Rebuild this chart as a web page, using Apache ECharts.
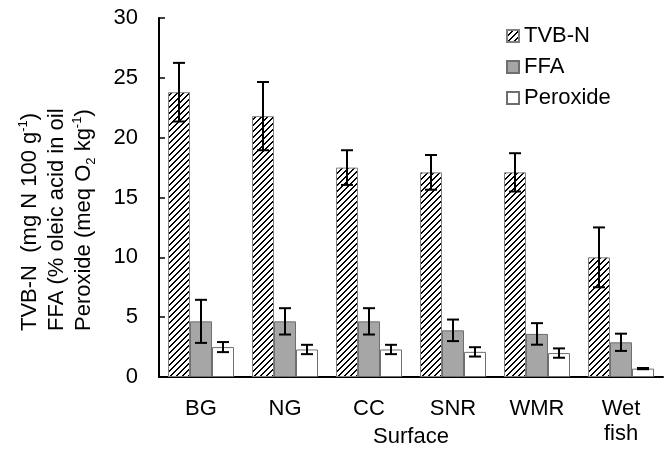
<!DOCTYPE html>
<html>
<head>
<meta charset="utf-8">
<script src="https://cdn.jsdelivr.net/npm/echarts@6/dist/echarts.min.js"></script>
<style>
  html, body { margin: 0; padding: 0; background: #fff; }
  #chart { width: 668px; height: 454px; }
</style>
</head>
<body>
<div id="chart"></div>
<script>
// values
const categories = ['BG', 'NG', 'CC', 'SNR', 'WMR', 'Wet\nfish'];
const tvbn = [23.8, 21.8, 17.5, 17.1, 17.1, 10.0];
const tvbnErr = [2.45, 2.85, 1.45, 1.45, 1.6, 2.5];
const ffa = [4.65, 4.65, 4.65, 3.9, 3.6, 2.9];
const ffaErr = [1.8, 1.1, 1.1, 0.9, 0.9, 0.72];
const peroxide = [2.5, 2.3, 2.3, 2.1, 2.0, 0.7];
const peroxideErr = [0.42, 0.39, 0.39, 0.39, 0.39, 0.05];
const yTicks = [0, 5, 10, 15, 20, 25, 30];

const FONT = 'Liberation Sans, Arial, sans-serif';
const BAR_W = 22;

// diagonal hatch for TVB-N, pixel exact so it stays crisp
function hatch() {
  const n = 6;
  const c = document.createElement('canvas');
  c.width = n; c.height = n;
  const ctx = c.getContext('2d');
  ctx.fillStyle = '#fff';
  ctx.fillRect(0, 0, n, n);
  ctx.fillStyle = '#000';
  for (let y = 0; y < n; y++) {
    const x = n - 1 - y;
    ctx.fillRect(x, y, 1, 1);
    ctx.fillRect((x + 1) % n, y, 1, 1);
  }
  return c;
}

function errorBars(vals, errs, offset) {
  return {
    type: 'custom',
    z: 10,
    silent: true,
    data: vals.map((v, i) => [i, v - errs[i], v + errs[i]]),
    renderItem: function (params, api) {
      const lo = api.coord([api.value(0), api.value(1)]);
      const hi = api.coord([api.value(0), api.value(2)]);
      const x = lo[0] + offset;
      const cap = 6;
      const st = {stroke: '#000', lineWidth: 2};
      return {
        type: 'group',
        children: [
          {type: 'line', shape: {x1: x, y1: lo[1], x2: x, y2: hi[1]}, style: st},
          {type: 'line', shape: {x1: x - cap, y1: lo[1], x2: x + cap, y2: lo[1]}, style: st},
          {type: 'line', shape: {x1: x - cap, y1: hi[1], x2: x + cap, y2: hi[1]}, style: st}
        ]
      };
    }
  };
}

const chart = echarts.init(document.getElementById('chart'));

chart.setOption({
  animation: false,
  textStyle: {fontFamily: FONT, color: '#000'},
  grid: {left: 159, right: 5, top: 18, bottom: 77, containLabel: false, outerBoundsMode: 'none'},
  legend: {
    data: ['TVB-N', 'FFA', 'Peroxide'],
    orient: 'vertical',
    left: 506,
    top: 25,
    padding: 0,
    icon: 'rect',
    itemWidth: 12,
    itemHeight: 12,
    itemGap: 9,
    selectedMode: false,
    textStyle: {fontSize: 22, fontFamily: FONT, color: '#000'}
  },
  xAxis: {
    type: 'category',
    data: categories,
    name: 'Surface',
    nameLocation: 'middle',
    nameGap: 49,
    nameMoveOverlap: false,
    nameTextStyle: {fontSize: 22, fontFamily: FONT, color: '#000'},
    axisLine: {lineStyle: {color: '#000', width: 2}},
    axisTick: {show: false},
    axisLabel: {fontSize: 22, fontFamily: FONT, color: '#000', margin: 19, lineHeight: 25, interval: 0}
  },
  yAxis: {
    type: 'value',
    min: yTicks[0],
    max: yTicks[yTicks.length - 1],
    interval: 5,
    axisLine: {show: true, lineStyle: {color: '#000', width: 2}},
    axisTick: {show: true, inside: true, length: 6, lineStyle: {color: '#000', width: 1.5}},
    splitLine: {show: false},
    axisLabel: {fontSize: 22, fontFamily: FONT, color: '#000', margin: 21}
  },
  graphic: [{
    type: 'text',
    x: 57,
    y: 331,
    rotation: Math.PI / 2,
    style: {
      text: 'TVB-N  (mg N 100 g{sup|-1})\nFFA (% oleic acid in oil\nPeroxide (meq O{sub|2} kg{sup|-1})',
      fontSize: 22,
      fontFamily: FONT,
      fill: '#000',
      align: 'left',
      verticalAlign: 'middle',
      lineHeight: 27,
      rich: {
        sup: {fontSize: 13, fontFamily: FONT, fill: '#000', verticalAlign: 'top', lineHeight: 27},
        sub: {fontSize: 13, fontFamily: FONT, fill: '#000', verticalAlign: 'bottom', lineHeight: 27}
      }
    }
  }],
  series: [
    {
      name: 'TVB-N',
      type: 'bar',
      data: tvbn,
      barWidth: BAR_W,
      barGap: '0%',
      itemStyle: {color: {image: hatch(), repeat: 'repeat'}, borderColor: '#808080', borderWidth: 1}
    },
    {
      name: 'FFA',
      type: 'bar',
      data: ffa,
      barWidth: BAR_W,
      barGap: '0%',
      itemStyle: {color: '#a6a6a6', borderColor: '#6e6e6e', borderWidth: 1}
    },
    {
      name: 'Peroxide',
      type: 'bar',
      data: peroxide,
      barWidth: BAR_W,
      barGap: '0%',
      itemStyle: {color: '#ffffff', borderColor: '#6e6e6e', borderWidth: 1}
    },
    errorBars(tvbn, tvbnErr, -BAR_W),
    errorBars(ffa, ffaErr, 0),
    errorBars(peroxide, peroxideErr, BAR_W)
  ]
});
</script>
</body>
</html>
